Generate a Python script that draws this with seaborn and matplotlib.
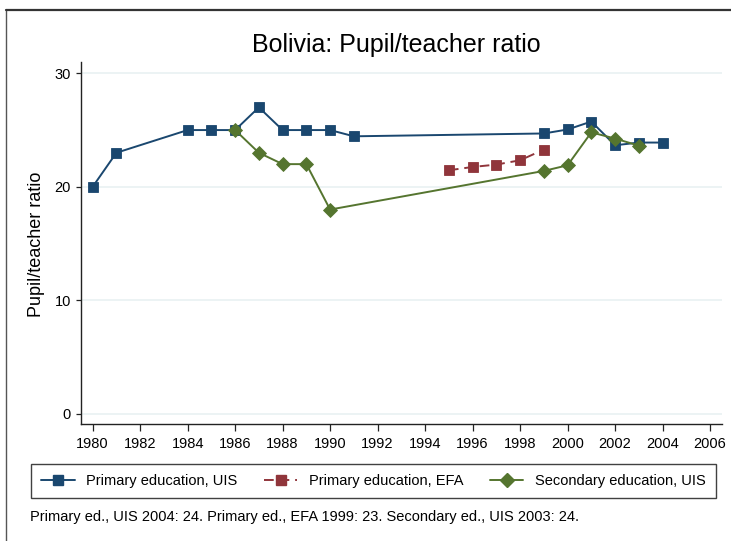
import matplotlib
matplotlib.use('Agg')
import matplotlib.pyplot as plt
import seaborn as sns
import pandas as pd
from matplotlib.lines import Line2D

# values
prim_uis_years = [1980, 1981, 1984, 1985, 1986, 1987, 1988, 1989, 1990, 1991,
                  1999, 2000, 2001, 2002, 2003, 2004]
prim_uis_vals = [20.0, 23.0, 25.0, 25.0, 25.0, 27.0, 25.0, 25.0, 25.0, 24.45,
                 24.7, 25.05, 25.75, 23.66, 23.9, 23.9]
prim_efa_years = [1995, 1996, 1997, 1998, 1999]
prim_efa_vals = [21.46, 21.75, 21.96, 22.34, 23.28]
sec_uis_years = [1986, 1987, 1988, 1989, 1990, 1999, 2000, 2001, 2002, 2003]
sec_uis_vals = [25.0, 23.0, 22.0, 22.0, 18.0, 21.4, 21.9, 24.8, 24.25, 23.63]

series_names = ['Primary education, UIS', 'Primary education, EFA', 'Secondary education, UIS']
colors = ['#1a476f', '#90353b', '#55752f']
note = 'Primary ed., UIS 2004: 24. Primary ed., EFA 1999: 23. Secondary ed., UIS 2003: 24.'

sns.set_style('white')
plt.rcParams['font.family'] = ['Liberation Sans', 'DejaVu Sans']
plt.rcParams['text.color'] = 'black'
plt.rcParams['xtick.color'] = 'black'
plt.rcParams['ytick.color'] = 'black'

W, H = 731, 541
fig = plt.figure(figsize=(W / 100, H / 100), dpi=100)
ax = fig.add_axes([81 / W, 1 - 424.3 / H, (721.7 - 81) / W, (424.3 - 61.7) / H])

frames = [
    pd.DataFrame({'year': prim_uis_years, 'ratio': prim_uis_vals}),
    pd.DataFrame({'year': prim_efa_years, 'ratio': prim_efa_vals}),
    pd.DataFrame({'year': sec_uis_years, 'ratio': sec_uis_vals}),
]
markers = ['s', 's', 'D']
msizes = [7.3, 7.3, 7.6]
lstyles = ['-', (0, (5, 3)), '-']

for y in [0, 10, 20, 30]:
    ax.axhline(y, color='#eaf2f3', lw=1.3, zorder=0)

handles = []
for df, name, c, m, ms, ls in zip(frames, series_names, colors, markers, msizes, lstyles):
    sns.lineplot(data=df, x='year', y='ratio', ax=ax, color=c, marker=m,
                 markersize=ms, markeredgecolor=c, markeredgewidth=0.6,
                 linestyle=ls, linewidth=1.4, legend=False)
    handles.append(Line2D([], [], color=c, marker=m, markersize=ms,
                          markeredgecolor=c, linestyle=ls, linewidth=1.4))

ax.set_xlim(1979.51, 2006.49)
ax.set_ylim(-0.91, 31.02)
ax.set_xticks(range(1980, 2007, 2))
ax.set_yticks([0, 10, 20, 30])
ax.set_xlabel('')
ax.set_ylabel('')
for s in ['top', 'right']:
    ax.spines[s].set_visible(False)
for s in ['left', 'bottom']:
    ax.spines[s].set_color('#222222')
    ax.spines[s].set_linewidth(1.0)
ax.tick_params(axis='x', length=5.2, width=0.9, color='#222222', pad=4,
               labelsize=10.5, direction='out', bottom=True)
ax.tick_params(axis='y', length=3.8, width=0.9, color='#222222', pad=3.5,
               labelsize=10.5, direction='out', left=True)

fig.text(396 / W, 1 - 45 / H, 'Bolivia: Pupil/teacher ratio', ha='center',
         va='center', fontsize=18)
fig.text(37 / W, 1 - 244 / H, 'Pupil/teacher ratio', ha='center',
         va='center', rotation=90, fontsize=13)

leg = fig.legend(handles, series_names, loc='lower left', ncol=3, mode='expand',
                 bbox_to_anchor=(31 / W, 1 - 498 / H, 685 / W, 35 / H),
                 frameon=True, fancybox=False, fontsize=10.5, handlelength=2.3,
                 handletextpad=0.8, borderaxespad=0, borderpad=0.7)
leg.get_frame().set_edgecolor('#111111')
leg.get_frame().set_linewidth(1.0)

fig.text(30 / W, 1 - 517 / H, note, ha='left', va='center', fontsize=10.5)

# outer graph frame (partially visible in the reference)
fig.add_artist(Line2D([6 / W, 6 / W], [0, 1 - 10 / H], transform=fig.transFigure,
                      color='#555555', lw=1.0))
fig.add_artist(Line2D([6 / W, 1], [1 - 10 / H, 1 - 10 / H], transform=fig.transFigure,
                      color='#333333', lw=1.6))

fig.savefig('out.png', dpi=100)
